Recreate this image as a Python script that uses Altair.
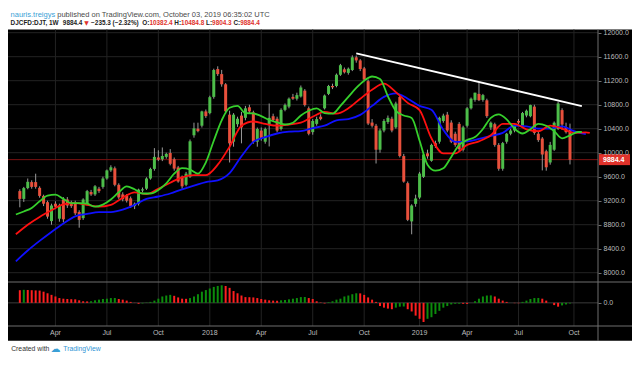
import altair as alt
import pandas as pd

W, H = 624, 351

# ---------------- data ----------------
CANDLE_START = "2017-01-30"   # first weekly bar shown
MA_BASE = "2017-02-06"        # week 0 for the indicator samples

OPEN = [9360, 9230, 9410, 9510, 9510, 9415, 9280, 9175, 8860, 9150,
        8900, 9220, 9220, 9170, 9170, 9010, 8910, 9150, 9345, 9305,
        9400, 9430, 9570, 9705, 9740, 9465, 9305, 9280, 9240, 9110,
        9150, 9370, 9400, 9570, 9730, 9920, 9890, 9930, 9995, 9890,
        9755, 9600, 9465, 9600, 10290, 10400, 10450, 10688, 10660, 10930,
        11394, 11310, 11140, 10634, 10183, 10475, 10618, 10581, 10757, 10672,
        10183, 10369, 10183, 10475, 10608, 10566, 10395, 10714, 10768, 10930,
        10900, 10937, 11034, 10740, 10343, 10480, 10600, 10740, 10980, 11112,
        11112, 11299, 11390, 11330, 11378, 11590, 11538, 11405, 11192, 10502,
        10449, 10050, 10370, 10512, 10566, 10422, 10927, 9944, 9492, 8855,
        9147, 9253, 9598, 9990, 9865, 10160, 10183, 10529, 10634, 10502,
        10316, 10480, 10050, 10449, 10740, 10880, 10980, 10880, 10873, 10420,
        10475, 10130, 9732, 10183, 10316, 10370, 10529, 10449, 10620, 10608,
        10768, 10316, 10236, 10024, 9837, 10050, 10395, 10710, 10420, 10382.4]
HIGH = [9390, 9430, 9570, 9540, 9650, 9440, 9300, 9200, 9150, 9190,
        9150, 9260, 9260, 9200, 9200, 9040, 9240, 9380, 9380, 9460,
        9430, 9600, 9720, 9790, 9770, 9490, 9340, 9310, 9270, 9170,
        9400, 9420, 9590, 9750, 10076, 10040, 10087, 10000, 10060, 9920,
        9780, 9620, 9680, 10220, 10500, 10500, 10700, 10720, 10950, 11400,
        11440, 11380, 11160, 10700, 10660, 10600, 10680, 10780, 10800, 10700,
        10420, 10420, 10420, 10820, 10650, 10600, 10740, 10820, 10920, 10980,
        11000, 11120, 11060, 10770, 10560, 10600, 10640, 10970, 11130, 11150,
        11320, 11480, 11420, 11420, 11623, 11620, 11560, 11430, 11220, 10560,
        10480, 10400, 10560, 10620, 10600, 10850, 10950, 9980, 9520, 9140,
        9300, 9680, 10000, 10050, 10150, 10200, 10600, 10650, 10680, 10540,
        10350, 10510, 10450, 10760, 10920, 11000, 11166, 10980, 10900, 10520,
        10500, 10160, 10180, 10330, 10400, 10470, 10560, 10680, 10720, 10800,
        10800, 10350, 10260, 10050, 10180, 10520, 10850, 10740, 10500, 10484.8]
LOW = [9090, 9180, 9390, 9400, 9400, 9250, 9110, 8900, 8800, 9060,
       8850, 8840, 9080, 9080, 8960, 8750, 8880, 9120, 9280, 9280,
       9330, 9400, 9550, 9680, 9440, 9230, 9190, 9170, 9080, 9060,
       9120, 9340, 9380, 9550, 9700, 9860, 9860, 9900, 9790, 9700,
       9500, 9400, 9440, 9580, 10250, 10340, 10420, 10580, 10640, 10900,
       11280, 11100, 10650, 9837, 10100, 10430, 10156, 10540, 10660, 10150,
       10100, 10200, 10150, 10104, 10520, 10340, 10370, 10690, 10740, 10880,
       10870, 10920, 10770, 10290, 10300, 10450, 10540, 10720, 10960, 11060,
       11090, 11280, 11320, 11300, 11360, 11500, 11360, 11200, 10460, 10420,
       9820, 10000, 10340, 10480, 10340, 10400, 9920, 9500, 8860, 8640,
       9100, 9230, 9580, 9900, 9850, 10080, 10150, 10500, 10340, 10160,
       10100, 10020, 10020, 10420, 10720, 10850, 10860, 10850, 10580, 10380,
       10100, 9700, 9700, 10150, 10290, 10340, 10480, 10420, 10590, 10590,
       10300, 10180, 9705, 9700, 9800, 10030, 10380, 10380, 10320, 9804.3]
CLOSE = [9230, 9410, 9515, 9430, 9430, 9280, 9150, 8935, 9120, 9100,
         9120, 8890, 9120, 9110, 8990, 8880, 9220, 9360, 9305, 9440,
         9360, 9570, 9705, 9757, 9465, 9255, 9225, 9200, 9110, 9150,
         9385, 9390, 9570, 9730, 9930, 9885, 9945, 9980, 9815, 9735,
         9520, 9440, 9650, 10190, 10405, 10360, 10688, 10610, 10925, 11378,
         11310, 11140, 10690, 10156, 10634, 10566, 10422, 10740, 10688, 10183,
         10395, 10235, 10395, 10581, 10545, 10369, 10714, 10794, 10900, 10900,
         10960, 11087, 10794, 10316, 10529, 10560, 10560, 10953, 11112, 11090,
         11299, 11458, 11340, 11400, 11590, 11538, 11394, 11219, 10486, 10449,
         10050, 10370, 10529, 10581, 10370, 10820, 9944, 9518, 8881, 9120,
         9237, 9652, 9970, 9940, 10130, 10110, 10581, 10618, 10370, 10183,
         10130, 10060, 10422, 10740, 10900, 11000, 10875, 10960, 10610, 10500,
         10130, 9732, 10160, 10316, 10370, 10449, 10502, 10661, 10700, 10794,
         10330, 10210, 9970, 9757, 10130, 10500, 10820, 10470, 10343, 9884.4]

# oscillator histogram, one bar per week
OSC = [660, 680, 670, 660, 650, 640, 583, 500, 417, 333,
       250, 217, 200, 190, 183, 133, 83, 75, 85, 133,
       167, 200, 217, 250, 255, 200, 167, 117, 50, -10,
       -50, -30, 17, 50, 117, 217, 333, 383, 417, 367,
       283, 217, 210, 250, 333, 450, 583, 667, 750, 833,
       883, 917, 880, 783, 617, 500, 383, 300, 295, 283,
       250, 200, 167, 133, 117, 110, 133, 150, 183, 217,
       250, 300, 305, 250, 200, 83, 20, -33, 33, 83,
       167, 217, 333, 383, 450, 500, 495, 417, 283, 167,
       50, -167, -250, -300, -333, -250, -200, -190, -333, -450,
       -667, -833, -1000, -833, -750, -583, -417, -250, -167, -83,
       -50, -45, -50, -55, 0, 83, 217, 333, 383, 390,
       333, 217, 117, 50, 0, -17, -20, 50, 117, 200,
       250, 255, 217, 117, 0, -117, -200, -133, -83, -33]

# Alligator lines (week offset from MA_BASE, value)
JAW_WEEK = [-2, 1, 4, 7, 10, 13, 16, 19, 22, 25, 28, 31, 34, 37, 40, 43, 46,
            49, 52, 55, 58, 61, 64, 67, 70, 73, 76, 79, 82, 85, 88, 91, 94,
            97, 100, 103, 106, 109, 112, 115, 118, 121, 124, 127, 130, 133,
            136, 139, 142]
JAW = [8190, 8370, 8530, 8680, 8820, 8940, 8980, 9010, 9010, 9050, 9130, 9230,
       9270, 9320, 9390, 9450, 9510, 9540, 9660, 9940, 10180, 10260, 10320,
       10350, 10360, 10410, 10450, 10540, 10560, 10630, 10780, 10930, 10990,
       10900, 10780, 10714, 10380, 10180, 10190, 10230, 10280, 10330, 10450,
       10440, 10400, 10400, 10440, 10360, 10310]
TEETH_WEEK = JAW_WEEK + [143]
TEETH = [8640, 8800, 8930, 9040, 9140, 9160, 9130, 9100, 9130, 9250, 9340,
         9310, 9400, 9500, 9590, 9625, 9625, 9800, 10100, 10450, 10520, 10480,
         10450, 10470, 10500, 10600, 10680, 10650, 10740, 10900, 11050, 11150,
         11010, 10830, 10710, 10240, 9990, 9990, 10130, 10190, 10290, 10480,
         10480, 10390, 10360, 10450, 10400, 10330, 10340, 10330]
LIPS_WEEK = [-2, 0, 2, 4, 6, 8, 10, 12, 14, 16, 18, 20, 22, 24, 26, 28, 30,
             32, 34, 36, 38, 40, 42, 44, 46, 48, 50, 52, 54, 56, 58, 60, 62,
             64, 66, 68, 70, 72, 74, 76, 78, 80, 82, 84, 86, 88, 90, 92, 94,
             96, 98, 100, 102, 104, 106, 108, 110, 112, 114, 116, 118, 120,
             122, 124, 126, 128, 130, 132, 134, 136, 138, 140, 141]
LIPS = [8970, 9020, 9080, 9190, 9285, 9300, 9230, 9160, 9160, 9150,
        9100, 9135, 9220, 9340, 9440, 9390, 9320, 9320, 9380, 9490,
        9650, 9742, 9720, 9650, 9840, 10200, 10540, 10750, 10780, 10660,
        10655, 10610, 10545, 10505, 10470, 10500, 10620, 10700, 10740, 10660,
        10650, 10780, 10930, 11080, 11200, 11270, 11230, 10940, 10700, 10620,
        10580, 10200, 9800, 9700, 9740, 9930, 10130, 10210, 10260, 10395,
        10580, 10640, 10555, 10400, 10320, 10390, 10480, 10450, 10360, 10240,
        10290, 10345, 10345]

TREND_DATES = ["2018-09-17", "2019-10-21"]
TREND = [11657, 10777]
LAST_CLOSE = 9884.4
PRICE_TICKS = [8000, 8400, 8800, 9200, 9600, 10000, 10400, 10800, 11200, 11600, 12000]
MONTH_TICKS = ["2017-04-03", "2017-07-03", "2017-10-02", "2018-01-01", "2018-04-02",
               "2018-07-02", "2018-10-01", "2019-01-07", "2019-04-01", "2019-07-01",
               "2019-10-07"]
MONTH_LABELS = ["Apr", "Jul", "Oct", "2018", "Apr", "Jul", "Oct", "2019", "Apr", "Jul", "Oct"]

HEADER_USER = "nauris.treigys"
HEADER_REST = "published on TradingView.com, October 03, 2019 06:35:02 UTC"
SYMBOL = "DJCFD:DJT, 1W"
LAST_TXT = "9884.4"
CHANGE_TXT = "\u2212235.3 (\u22122.32%)"
OHLC_KEYS = ["O:", "H:", "L:", "C:"]
OHLC_VALS = ["10382.4", "10484.8", "9804.3", "9884.4"]

# ---------------- styling ----------------
FONT = "Liberation Sans"
GRID = "#232323"
SEP = "#6f6f6f"
AXIS_TXT = "#bdbdbd"
UP, DOWN, WICK = "#4dbd4a", "#e8503c", "#9a9a9a"
OSC_UP, OSC_DOWN = "#0c8c0c", "#ff1f1f"
RED_TXT = "#e0322b"
DARK_TXT = "#222222"

# approximate Arial/Liberation glyph advances (em) used to lay out header runs
_REG = {c: 0.556 for c in "abdeghnopqu0123456789"}
_REG.update({"c": 0.5, "k": 0.5, "s": 0.5, "v": 0.5, "x": 0.5, "y": 0.5, "z": 0.5,
             "f": 0.278, "t": 0.278, "i": 0.222, "j": 0.222, "l": 0.222, "r": 0.333,
             "m": 0.833, "w": 0.722, " ": 0.278, ".": 0.278, ",": 0.278, ":": 0.278,
             "T": 0.611, "V": 0.667, "U": 0.722, "C": 0.722, "O": 0.778})
_BOLD = {c: 0.556 for c in "0123456789J"}
_BOLD.update({"D": 0.722, "C": 0.722, "F": 0.611, "T": 0.611, "W": 0.944, "O": 0.778,
              "H": 0.722, "L": 0.611, " ": 0.278, ".": 0.278, ",": 0.278, ":": 0.333,
              "(": 0.333, ")": 0.333, "%": 0.889, "\u2212": 0.584, "\u25bc": 0.8})


def em(s, table):
    return sum(table.get(ch, 0.556) for ch in s)


# ---------------- frames ----------------
base = pd.Timestamp(MA_BASE)
start = pd.Timestamp(CANDLE_START)
candles = pd.DataFrame({
    "date": [start + pd.Timedelta(weeks=k) for k in range(len(CLOSE))],
    "open": OPEN, "high": HIGH, "low": LOW, "close": CLOSE,
})
candles["dir"] = ["up" if c >= o else "down" for o, c in zip(OPEN, CLOSE)]

osc = pd.DataFrame({"date": candles["date"], "v": OSC, "zero": 0})
osc["dir"] = ["up" if (i > 0 and OSC[i] > OSC[i - 1]) else "down" for i in range(len(OSC))]


def ma_frame(weeks, vals):
    return pd.DataFrame({"date": [base + pd.Timedelta(weeks=w) for w in weeks], "v": vals})


jaw, teeth, lips = ma_frame(JAW_WEEK, JAW), ma_frame(TEETH_WEEK, TEETH), ma_frame(LIPS_WEEK, LIPS)
trend = pd.DataFrame({"date": pd.to_datetime(TREND_DATES), "v": TREND})
months = pd.DataFrame({"date": pd.to_datetime(MONTH_TICKS), "label": MONTH_LABELS})
one = pd.DataFrame({"k": [0]})


def dt(s):
    t = pd.Timestamp(s)
    return alt.DateTime(year=t.year, month=t.month, date=t.day)


x_scale = alt.Scale(domain=[dt("2017-01-23"), dt("2019-11-04")], range=[2.87, 586.78], nice=False)
price_scale = alt.Scale(domain=[8000, 12000], range=[264.7, 24.7], nice=False, zero=False)
osc_scale = alt.Scale(domain=[-1000, 1000], range=[314.0, 275.7], nice=False, zero=False)

price_axis = alt.Axis(orient="right", offset=-34, values=PRICE_TICKS, format=".1f",
                      labelColor=AXIS_TXT, labelFont=FONT, labelFontSize=7, tickColor=SEP,
                      tickSize=3, domain=False, grid=False, labelPadding=2, title=None, zindex=5)
osc_axis = alt.Axis(orient="right", offset=-34, values=[0], format=".1f",
                    labelColor=AXIS_TXT, labelFont=FONT, labelFontSize=7, tickColor=SEP,
                    tickSize=3, domain=False, grid=False, labelPadding=2, title=None, zindex=5)


def X():
    return alt.X("date:T", scale=x_scale, axis=None, title=None)


def PY(field, axis=None):
    return alt.Y(f"{field}:Q", scale=price_scale, axis=axis, title=None)


def text_layer(txt, x, y, color, size, weight="normal", font=FONT):
    return alt.Chart(pd.DataFrame({"t": [txt]})).mark_text(
        align="left", baseline="middle", font=font, fontSize=size, fontWeight=weight, color=color
    ).encode(text="t:N", x=alt.value(x), y=alt.value(y))


layers = []
# black chart background
layers.append(alt.Chart(one).mark_rect(color="#000000").encode(
    x=alt.value(0), x2=alt.value(W), y=alt.value(21.5), y2=alt.value(332.8)))
# grids
layers.append(alt.Chart(pd.DataFrame({"p": PRICE_TICKS})).mark_rule(color=GRID).encode(
    y=PY("p", price_axis), x=alt.value(0), x2=alt.value(590)))
layers.append(alt.Chart(months).mark_rule(color=GRID).encode(
    x=X(), y=alt.value(21.5), y2=alt.value(318)))
layers.append(alt.Chart(pd.DataFrame({"v": [0]})).mark_rule(color="#3a3a3a").encode(
    y=alt.Y("v:Q", scale=osc_scale, axis=osc_axis, title=None), x=alt.value(0), x2=alt.value(590)))
# time axis labels
layers.append(alt.Chart(months).mark_text(
    align="center", baseline="middle", font=FONT, fontSize=7, color=AXIS_TXT).encode(
    x=X(), y=alt.value(325.2), text="label:N"))
# last close line
layers.append(alt.Chart(pd.DataFrame({"p": [LAST_CLOSE]})).mark_rule(color="#7a1212").encode(
    y=PY("p"), x=alt.value(0), x2=alt.value(590)))
# candles
layers.append(alt.Chart(candles).mark_rule(color=WICK, strokeWidth=1).encode(
    x=X(), y=PY("low"), y2=alt.Y2("high")))
layers.append(alt.Chart(candles).mark_bar(size=3).encode(
    x=X(), y=PY("open"), y2=alt.Y2("close"),
    color=alt.Color("dir:N", scale=alt.Scale(domain=["up", "down"], range=[UP, DOWN]), legend=None)))
# alligator lines
for frame, col in [(jaw, "#1010ff"), (teeth, "#ff1010"), (lips, "#36d02c")]:
    layers.append(alt.Chart(frame).mark_line(color=col, strokeWidth=1.8, interpolate="monotone").encode(
        x=X(), y=PY("v")))
# trend line
layers.append(alt.Chart(trend).mark_line(color="#ffffff", strokeWidth=1.8).encode(x=X(), y=PY("v")))
# oscillator
layers.append(alt.Chart(osc).mark_bar(size=2).encode(
    x=X(), y=alt.Y("v:Q", scale=osc_scale, axis=None, title=None), y2=alt.Y2("zero"),
    color=alt.Color("dir:N", scale=alt.Scale(domain=["up", "down"], range=[OSC_UP, OSC_DOWN]), legend=None)))
# separators
layers.append(alt.Chart(one).mark_rule(color=SEP).encode(x=alt.value(0), x2=alt.value(W), y=alt.value(274)))
layers.append(alt.Chart(one).mark_rule(color=SEP).encode(x=alt.value(0), x2=alt.value(W), y=alt.value(318)))
layers.append(alt.Chart(one).mark_rule(color=SEP).encode(x=alt.value(590), y=alt.value(21.5), y2=alt.value(332.8)))
# last price label
layers.append(alt.Chart(pd.DataFrame({"p": [LAST_CLOSE]})).mark_rect(color=RED_TXT, height=11).encode(
    y=PY("p"), x=alt.value(591), x2=alt.value(622)))
layers.append(alt.Chart(pd.DataFrame({"p": [LAST_CLOSE], "t": [LAST_TXT]})).mark_text(
    align="left", baseline="middle", font=FONT, fontSize=7, fontWeight="bold", color="#ffffff").encode(
    y=PY("p"), x=alt.value(595), text="t:N"))

# header line 1 (runs laid out one after another)
F1 = 7.5
x1 = 2.6
layers.append(text_layer(HEADER_USER, x1, 7.0, "#3a9fd6", F1))
x1 += (em(HEADER_USER, _REG) + 0.278) * F1
layers.append(text_layer(HEADER_REST, x1, 7.0, "#4a4a4a", F1))

# header line 2
F2 = 6.4
Y2L = 15.0
runs = [(SYMBOL, DARK_TXT, 2), (LAST_TXT, DARK_TXT, 1), ("\u25bc", RED_TXT, 1),
        (CHANGE_TXT, DARK_TXT, 2)]
for k, v in zip(OHLC_KEYS, OHLC_VALS):
    runs += [(k, DARK_TXT, 0), (v, RED_TXT, 1)]
x2 = 2.6
for txt, col, gap in runs:
    font = "DejaVu Sans" if txt == "\u25bc" else FONT
    layers.append(text_layer(txt, x2, Y2L, col, F2 - (0.6 if font != FONT else 0), "bold", font))
    x2 += (em(txt, _BOLD) + gap * 0.278) * F2

# footer
layers.append(text_layer("Created with", 3.2, 341.2, "#333333", 6.8))
layers.append(text_layer("\u2601", 42.5, 340.6, "#3a9fd6", 10, "normal", "DejaVu Sans"))
layers.append(text_layer("TradingView", 55.3, 341.2, "#2f96d6", 6.8))

chart = alt.layer(*layers).resolve_scale(y="independent", color="independent").properties(
    width=W, height=H, padding=0, autosize=alt.AutoSizeParams(type="none"), background="white"
).configure_view(stroke=None)

chart.save("out.html", embed_options={"renderer": "svg", "actions": False})
